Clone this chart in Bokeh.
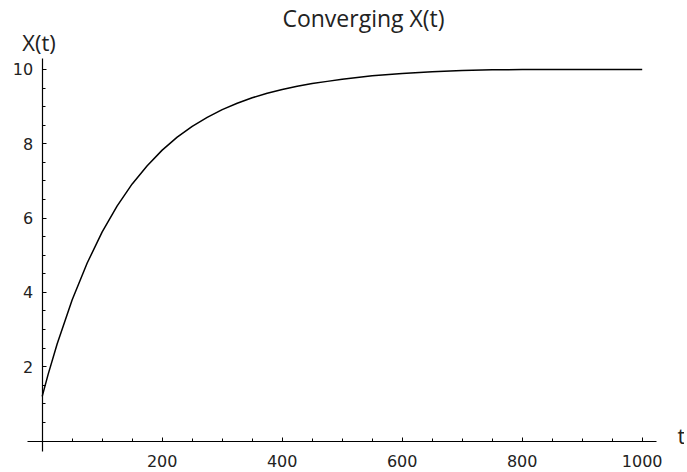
from bokeh.plotting import figure
from bokeh.models import FixedTicker, Label
from bokeh.embed import file_html
from bokeh.resources import INLINE

# values
t_values = [0, 10, 25, 50, 75, 100, 125, 150, 175, 200, 225, 250, 275, 300,
            325, 350, 375, 400, 425, 450, 475, 500, 550, 600, 650, 700, 750, 800, 900, 1000]
x_values = [1.2, 1.8, 2.62, 3.8, 4.79, 5.63, 6.33, 6.92, 7.41, 7.83, 8.18, 8.47, 8.71, 8.92,
            9.09, 9.24, 9.36, 9.46, 9.55, 9.62, 9.68, 9.74, 9.83, 9.89, 9.94, 9.97, 9.99, 10.0, 10.0, 10.0]

x_major = [200, 400, 600, 800, 1000]
x_minor = [50, 100, 150, 250, 300, 350, 450, 500, 550, 650, 700, 750, 850, 900, 950]
y_major = [2, 4, 6, 8, 10]
y_minor = [0.5, 1, 1.5, 2.5, 3, 3.5, 4.5, 5, 5.5, 6.5, 7, 7.5, 8.5, 9, 9.5]

title_text = "Converging X(t)"
y_label = "X(t)"
x_label = "t"

W, H = 684, 470
p = figure(width=W, height=H, x_range=(-69.5, 1070.5), y_range=(-0.794, 11.857),
           output_backend="svg", toolbar_location=None,
           min_border_left=0, min_border_right=0, min_border_top=0, min_border_bottom=0)
p.title.visible = False
p.outline_line_color = None
p.grid.visible = False

p.line(t_values, x_values, line_color="black", line_width=1.5)

for ax in (p.xaxis[0], p.yaxis[0]):
    ax.fixed_location = 0
    ax.axis_line_color = "black"
    ax.axis_line_width = 1.2
    ax.major_tick_line_color = "black"
    ax.minor_tick_line_color = "black"
    ax.major_tick_in = 4
    ax.major_tick_out = 0
    ax.minor_tick_in = 3
    ax.minor_tick_out = 0
    ax.major_label_text_font = "DejaVu Sans"
    ax.major_label_text_font_size = "16px"
    ax.major_label_text_color = "#222222"

p.xaxis[0].major_label_standoff = 14
p.yaxis[0].major_label_standoff = 9
p.xaxis[0].ticker = FixedTicker(ticks=x_major, minor_ticks=x_minor)
p.yaxis[0].ticker = FixedTicker(ticks=y_major, minor_ticks=y_minor)
p.xaxis[0].bounds = (-25, 1024)
p.yaxis[0].bounds = (-0.28, 10.3)

p.add_layout(Label(x=363, y=H - 17.7, x_units="screen", y_units="screen", text=title_text,
                   text_align="center", text_baseline="alphabetic", text_font="Open Sans",
                   text_font_size="23px", text_color="#222222"))
p.add_layout(Label(x=21.7, y=H - 41, x_units="screen", y_units="screen", text=y_label,
                   text_align="left", text_baseline="alphabetic", text_font="Open Sans",
                   text_font_size="22px", text_color="#222222"))
p.add_layout(Label(x=677, y=H - 434.3, x_units="screen", y_units="screen", text=x_label,
                   text_align="left", text_baseline="alphabetic", text_font="Open Sans",
                   text_font_size="22px", text_color="#222222"))

open("out.html", "w").write(file_html(p, INLINE))
